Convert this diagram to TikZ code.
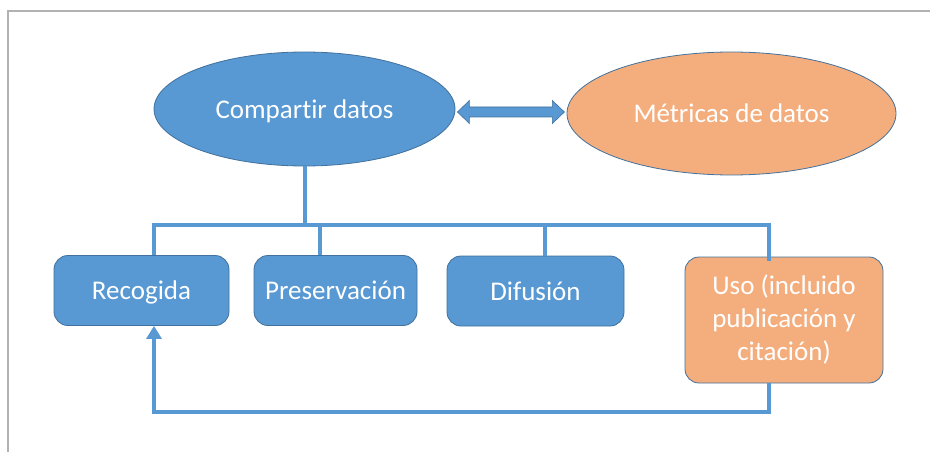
\documentclass[tikz,border=0pt]{standalone}
\usepackage{fontspec}
\setsansfont{Carlito}[RawFeature={-liga;-clig}]
\usetikzlibrary{positioning,arrows.meta,shapes.geometric,calc}
\definecolor{officeblue}{HTML}{5898D3}
\definecolor{officeorange}{HTML}{F4AE7E}
\definecolor{edgeblue}{HTML}{41719C}

\begin{document}
\begin{tikzpicture}[font=\sffamily,x=1pt,y=-1pt,>={Triangle[length=13pt,width=15pt]}]
  \tikzstyle{blob}=[ellipse,draw=edgeblue,line width=0.8pt,text=white,inner sep=0pt,text height=20pt,text depth=2pt,font=\sffamily\fontsize{27}{33}\selectfont]
  \tikzstyle{stage}=[draw=edgeblue,line width=0.8pt,rounded corners=14pt,fill=officeblue,text=white,align=center,inner sep=0pt,font=\sffamily\fontsize{27}{33}\selectfont]
  \tikzstyle{onerow}=[text height=20pt,text depth=2pt]
  \tikzstyle{conn}=[draw=officeblue,line width=4pt]
  \useasboundingbox (0,0) rectangle (930,452);
  \draw[gray!60,line width=1.2pt] (8,452) -- (8,11) -- (930,11);
  % top row
  \node[blob,fill=officeblue,minimum width=301pt,minimum height=114pt] (share) at (304.5,109) {Compartir datos};
  \node[blob,fill=officeorange,minimum width=329pt,minimum height=123pt] (metrics) at (731.5,113.5) {Métricas de datos};
  \draw[fill=officeblue,draw=edgeblue,line width=0.6pt] ($(share.east)+(2,3)$) -- ++(12,-11.5) -- ++(0,6.5) -- ++(83,0) -- ++(0,-6.5) -- ++(12,11.5)
    -- ++(-12,11.5) -- ++(0,-6.5) -- ++(-83,0) -- ++(0,6.5) -- cycle;
  % stages
  \node[stage,onerow,minimum width=175pt,minimum height=70pt] (collect) at (141.5,290.5) {Recogida};
  \node[stage,onerow,minimum width=163pt,minimum height=70pt] (preserve) at (335.5,290.5) {Preservación};
  \node[stage,onerow,minimum width=177pt,minimum height=70pt] (spread) at (535.5,291) {Difusión};
  \node[stage,fill=officeorange,minimum width=198pt,minimum height=126pt] (use) at (784,320) {Uso (incluido\\publicación y\\citación)};
  % bus
  \coordinate (busL) at (154,224.5);
  \coordinate (busR) at (769,224.5);
  \coordinate (dropP) at (320,224.5);
  \coordinate (dropD) at (545,224.5);
  \coordinate (loopL) at (154,412);
  \coordinate (loopR) at (769,412);
  \draw[conn] (share.south) -- (share.south |- busL);
  \draw[conn] (collect.north -| busL) -- (busL) -- (busR) -- ([yshift=-4pt]use.north -| busR);
  \draw[conn] (dropP) -- (preserve.north -| dropP);
  \draw[conn] (dropD) -- (spread.north -| dropD);
  % loop back
  \draw[conn,->] (use.south -| loopR) -- (loopR) -- (loopL) -- (collect.south -| loopL);
\end{tikzpicture}
\end{document}
